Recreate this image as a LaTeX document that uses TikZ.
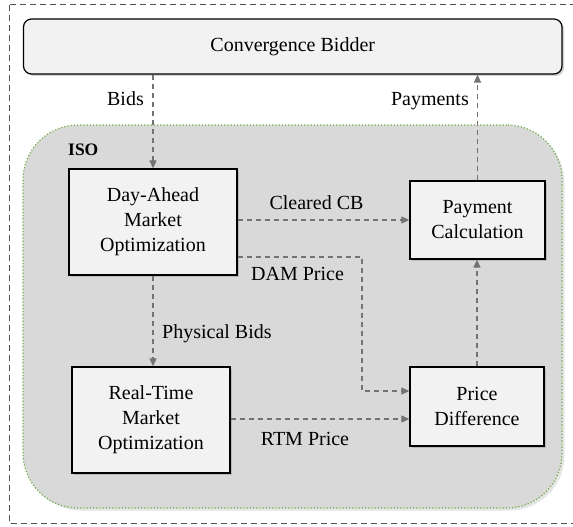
\documentclass[tikz,border=0pt]{standalone}
\usepackage{fontspec}
\setmainfont{Liberation Serif}
\usetikzlibrary{shadows,arrows.meta,calc}
\definecolor{boxfill}{HTML}{F2F2F2}
\definecolor{isofill}{HTML}{D9D9D9}
\definecolor{isoborder}{HTML}{70AD47}
\definecolor{conncol}{HTML}{737373}
\definecolor{outercol}{HTML}{505050}
\begin{document}
\begin{tikzpicture}[x=1pt,y=-1pt,
  font=\fontsize{20}{25}\selectfont,
  box/.style={draw=black, line width=1.3pt, fill=boxfill, align=center, inner sep=0pt,
    drop shadow={shadow xshift=2pt, shadow yshift=-2pt, opacity=0.35}},
  conn/.style={draw=conncol, line width=1.2pt, dash pattern=on 5pt off 4pt,
    -{Triangle[length=8pt,width=7pt]}},
  lbl/.style={inner sep=0pt}
]
\useasboundingbox[fill=white] (0,0) rectangle (573,527);
% outer dashed frame (right side lies at the picture's edge)
\draw[outercol, line width=1pt, dash pattern=on 6pt off 4pt] (9,5) rectangle (574.5,523);
% ISO region
\node[draw=isoborder, line width=1.2pt, dotted, fill=isofill, rounded corners=55pt,
  minimum width=539pt, minimum height=383pt, inner sep=0pt,
  drop shadow={shadow xshift=2.5pt, shadow yshift=-2.5pt, opacity=0.2}] (iso) at (292.5,316.5) {};
\node[lbl, anchor=base west, font=\fontsize{17.5}{20}\selectfont\bfseries] (isolbl) at (68,155) {ISO};
% Convergence bidder
\node[box, line width=1.2pt, rounded corners=8pt, minimum width=538.5pt, minimum height=55pt] (cb) at (292.75,46.5) {Convergence Bidder};
% boxes
\node[box, minimum width=168pt, minimum height=106pt] (dam) at (153,222) {Day-Ahead\\Market\\Optimization};
\node[box, minimum width=135pt, minimum height=78pt] (pay) at (477.5,220) {Payment\\Calculation};
\node[box, minimum width=158pt, minimum height=106pt] (rtm) at (151,420) {Real-Time\\Market\\Optimization};
\node[box, minimum width=134pt, minimum height=79pt] (pd) at (477,406.5) {Price\\Difference};
% connectors
\draw[conn] (cb.south -| dam.north) -- (dam.north);
\draw[conn] (pay.north) -- (pay.north |- cb.south);
\draw[conn] (dam.east |- pay.west) -- (pay.west);
\coordinate (dpx) at (362,0);
\coordinate (pdin) at ([yshift=15.5pt]pd.west);
\draw[conn] ([yshift=-35pt]dam.east) -| (dpx |- pdin) -- (pdin);
\draw[conn] (dam.south) -- (dam.south |- rtm.north);
\draw[conn] ([yshift=1pt]rtm.east) -- ([yshift=1pt]rtm.east -| pd.west);
\draw[conn] (pd.north) -- (pd.north |- pay.south);
% labels
\node[lbl, anchor=base east] (lbids) at (144,105) {Bids};
\node[lbl, anchor=base east] (lpay) at (469,105) {Payments};
\node[lbl, anchor=base] (lccb) at (316.5,209) {Cleared CB};
\node[lbl, anchor=base] (ldam) at (297.5,280) {DAM Price};
\node[lbl, anchor=base west] (lphys) at (162,338) {Physical Bids};
\node[lbl, anchor=base] (lrtm) at (305,445) {RTM Price};
\end{tikzpicture}
\end{document}
